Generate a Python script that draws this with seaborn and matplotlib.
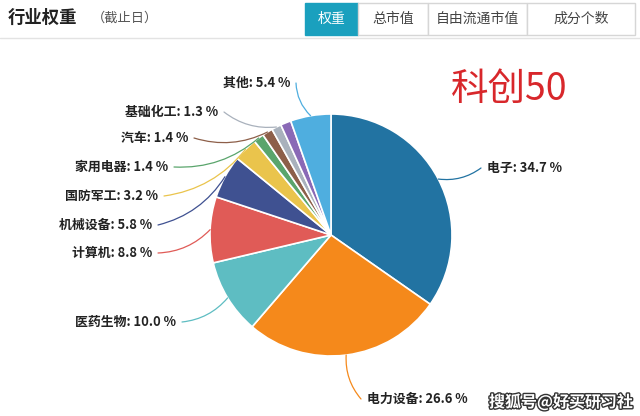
import numpy as np
import matplotlib
matplotlib.use("Agg")
import matplotlib.pyplot as plt
import matplotlib.patheffects as pe
from matplotlib.patches import Rectangle
import seaborn as sns

# industry weights of the index, clockwise from the top
industries = ["电子", "电力设备", "医药生物", "计算机", "机械设备", "国防军工",
              "家用电器", "汽车", "基础化工", "", "其他"]
weights = [34.7, 26.6, 10.0, 8.8, 5.8, 3.2, 1.4, 1.4, 1.3, 1.4, 5.4]
colors = ["#2273a2", "#f5891b", "#5ebdc2", "#e05b57", "#3f5191", "#eac44c",
          "#5aa56c", "#8d5f49", "#a9b1bc", "#8a69b6", "#4faedf"]
tabs = ["权重", "总市值", "自由流通市值", "成分个数"]

# label anchor (pixel) for each labelled slice: x, y, horizontal alignment
label_pos = {
    "电子": (487, 168, "left"),
    "电力设备": (367, 399, "left"),
    "医药生物": (176, 322, "right"),
    "计算机": (152, 253, "right"),
    "机械设备": (152, 225, "right"),
    "国防军工": (158, 196, "right"),
    "家用电器": (168, 167, "right"),
    "汽车": (188, 138, "right"),
    "基础化工": (218, 112, "right"),
    "其他": (290, 83, "right"),
}

W, H = 640, 416
sns.set_theme(style="white")
plt.rcParams["font.family"] = ["Noto Sans CJK SC", "DejaVu Sans"]

fig = plt.figure(figsize=(6.4, 4.16), dpi=100)
fig.patch.set_facecolor("white")
ax = fig.add_axes([0, 0, 1, 1])

cx, cy, r = 331, 235, 121
wedges, _ = ax.pie(weights, colors=colors, startangle=90, counterclock=False,
                   center=(cx, H - cy), radius=r, frame=True,
                   wedgeprops=dict(edgecolor="white", linewidth=1.2))
ax.set_xlim(0, W)
ax.set_ylim(0, H)
ax.set_aspect("equal")
ax.axis("off")

# labels with leader lines
for w, name, val, c in zip(wedges, industries, weights, colors):
    if not name:
        continue
    ang = np.deg2rad((w.theta1 + w.theta2) / 2)
    ex, ey = cx + r * np.cos(ang), (H - cy) + r * np.sin(ang)
    tx, ty, ha = label_pos[name]
    gap = 6 if ha == "left" else -6
    rad = 0.2 if ha == "right" else -0.2
    ax.annotate("", xy=(ex, ey), xytext=(tx - gap, H - ty),
                arrowprops=dict(arrowstyle="-", color=c, lw=0.9,
                                shrinkA=0, shrinkB=0,
                                connectionstyle=f"arc3,rad={rad}"))
    ax.text(tx, H - ty, f"{name}: {val:.1f} %", ha=ha, va="center",
            fontsize=9.3, fontweight="bold", color="#222222")

# header
ax.text(8, H - 18, "行业权重", fontsize=12.5, fontweight="bold", color="#222222",
        va="center", ha="left")
ax.text(92, H - 18, "（截止日）", fontsize=9.5, color="#555555", va="center", ha="left")
ax.plot([0, W], [H - 38, H - 38], color="#e3e3e3", lw=1)

tab_edges = [305, 358, 428, 527, 635]
for i, t in enumerate(tabs):
    x0, x1 = tab_edges[i], tab_edges[i + 1]
    sel = i == 0
    ax.add_patch(Rectangle((x0, H - 35), x1 - x0, 32,
                           facecolor="#1aa0be" if sel else "white",
                           edgecolor="#1aa0be" if sel else "#d6d6d6", lw=1))
    ax.text((x0 + x1) / 2, H - 19, t, ha="center", va="center", fontsize=10,
            color="white" if sel else "#444444")

ax.text(509, H - 89, "科创50", ha="center", va="center", fontsize=27,
        color="#d8272b")

ax.text(633, H - 402, "搜狐号@好买研习社", ha="right", va="center", fontsize=11.5,
        color="white", fontweight="bold",
        path_effects=[pe.withStroke(linewidth=2, foreground="#333333")])

fig.savefig("out.png", dpi=100, facecolor="white")
